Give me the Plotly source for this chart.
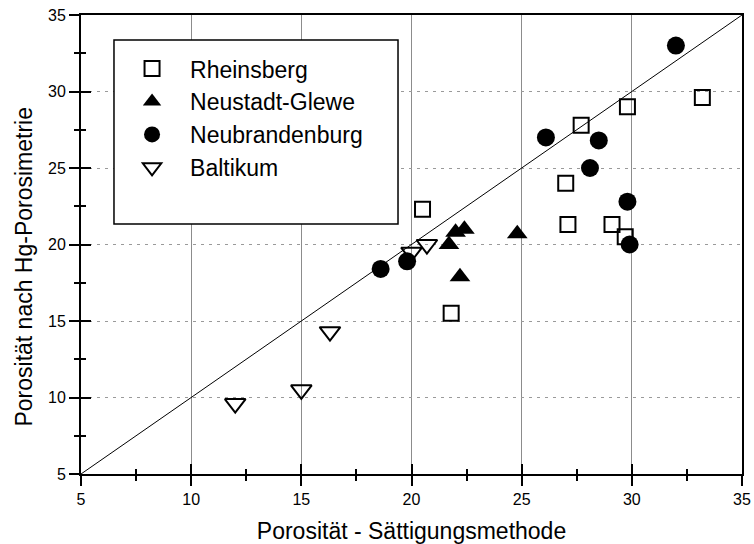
import plotly.graph_objects as go

# ---- data ----
rh_x = [20.5, 21.8, 27.7, 29.8, 33.2, 27.0, 27.1, 29.1, 29.7]
rh_y = [22.3, 15.5, 27.8, 29.0, 29.6, 24.0, 21.3, 21.3, 20.5]
ng_x = [21.7, 22.0, 22.4, 22.2, 24.8]
ng_y = [20.0, 20.8, 21.0, 17.9, 20.7]
nb_x = [18.6, 19.8, 26.1, 28.5, 28.1, 29.8, 29.9, 32.0]
nb_y = [18.4, 18.9, 27.0, 26.8, 25.0, 22.8, 20.0, 33.0]
bk_x = [12.0, 15.0, 16.3, 20.0, 20.7]
bk_y = [9.6, 10.5, 14.3, 19.5, 20.0]
line_x = [5, 35]
line_y = [5, 35]
tick_vals = [5, 10, 15, 20, 25, 30, 35]
minor_vals = [7.5, 12.5, 17.5, 22.5, 27.5, 32.5]
x_title = "Porosität - Sättigungsmethode"
y_title = "Porosität nach Hg-Porosimetrie"

FONT = "Liberation Sans, Arial, sans-serif"

fig = go.Figure()

fig.add_trace(go.Scatter(x=line_x, y=line_y, mode="lines", xaxis="x2", yaxis="y2",
                         line=dict(color="black", width=1), showlegend=False, hoverinfo="skip"))

fig.add_trace(go.Scatter(x=rh_x, y=rh_y, mode="markers", name="Rheinsberg", legendgroup="a",
                         marker=dict(symbol="square-open", size=15, color="black",
                                     line=dict(width=2, color="black"))))
fig.add_trace(go.Scatter(x=ng_x, y=ng_y, mode="markers", name="Neustadt-Glewe", legendgroup="b",
                         marker=dict(symbol="triangle-up", size=18, color="black",
                                     line=dict(width=0))))
fig.add_trace(go.Scatter(x=nb_x, y=nb_y, mode="markers", name="Neubrandenburg", legendgroup="c",
                         marker=dict(symbol="circle", size=18, color="black",
                                     line=dict(width=0))))
fig.add_trace(go.Scatter(x=bk_x, y=bk_y, mode="markers", name="Baltikum", legendgroup="d",
                         marker=dict(symbol="triangle-down-open", size=18, color="black",
                                     line=dict(width=2, color="black"))))

common_font = dict(family=FONT, size=16, color="black")

fig.update_layout(
    width=754, height=544,
    margin=dict(l=81, r=12, t=15, b=70, autoexpand=False),
    paper_bgcolor="white", plot_bgcolor="white",
    font=dict(family=FONT, color="black"),
    xaxis=dict(range=[5, 35], tickvals=tick_vals, ticks="outside", ticklen=10, tickwidth=2,
               tickcolor="black", showline=True, linewidth=2, linecolor="black", mirror=True,
               showgrid=True, gridcolor="#8c8c8c", gridwidth=1, zeroline=False,
               tickfont=common_font, automargin=False,
               minor=dict(tickvals=minor_vals, ticks="outside",
                          ticklen=5, tickwidth=2, tickcolor="black", showgrid=False),
               title=dict(text=x_title, font=dict(family=FONT, size=23, color="black"), standoff=19)),
    yaxis=dict(range=[5, 35], tickvals=tick_vals, ticks="outside", ticklen=10, tickwidth=2,
               tickcolor="black", showline=True, linewidth=2, linecolor="black", mirror=True,
               showgrid=True, gridcolor="#9a9a9a", gridwidth=1, griddash="3px,5px",
               zeroline=False, tickfont=common_font, automargin=False,
               minor=dict(tickvals=minor_vals, ticks="outside",
                          ticklen=5, tickwidth=2, tickcolor="black", showgrid=False)),
    xaxis2=dict(range=[5, 35], overlaying="x", anchor="y2", side="bottom", tickvals=tick_vals,
                ticks="inside", ticklen=10, tickwidth=2, tickcolor="black", automargin=False,
                showticklabels=False, showgrid=False, zeroline=False, showline=False,
                minor=dict(tickvals=minor_vals, ticks="inside",
                           ticklen=5, tickwidth=2, tickcolor="black", showgrid=False)),
    yaxis2=dict(range=[5, 35], overlaying="y", anchor="x2", side="left", tickvals=tick_vals,
                ticks="inside", ticklen=10, tickwidth=2, tickcolor="black", automargin=False,
                showticklabels=False, showgrid=False, zeroline=False, showline=False,
                minor=dict(tickvals=minor_vals, ticks="inside",
                           ticklen=5, tickwidth=2, tickcolor="black", showgrid=False)),
    legend=dict(x=0.05, y=0.93, xanchor="left", yanchor="top",
                bgcolor="rgba(0,0,0,0)", borderwidth=0,
                font=dict(family=FONT, size=23, color="black"),
                itemwidth=66, tracegroupgap=0),
    showlegend=True,
    shapes=[dict(type="rect", xref="paper", yref="paper",
                 x0=0.0499, x1=0.4796, y0=0.5447, y1=0.9455,
                 fillcolor="white", line=dict(color="black", width=1.5), layer="above")],
    annotations=[dict(text=y_title, xref="paper", yref="paper", x=-0.0862, y=0.452,
                      xanchor="center", yanchor="middle", textangle=-90, showarrow=False,
                      font=dict(family=FONT, size=23, color="black"))],
)

fig.write_html("out.html")
